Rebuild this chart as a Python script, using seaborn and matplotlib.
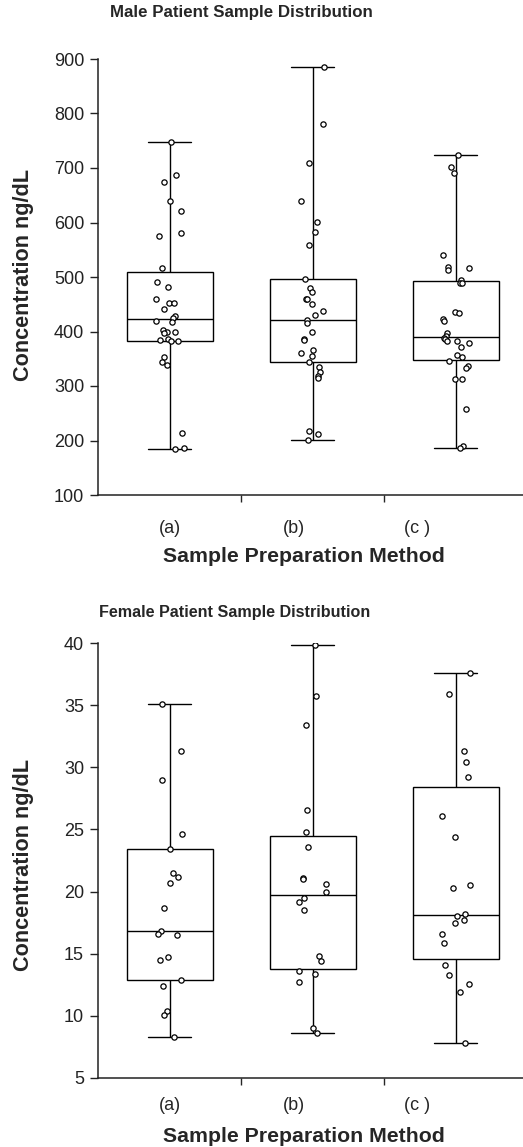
import numpy as np
import pandas as pd
import matplotlib
matplotlib.use("Agg")
import matplotlib.cbook
import matplotlib.pyplot as plt
import seaborn as sns

methods = ["(a)", "(b)", "(c )"]

male_a = [747, 688, 674, 640, 622, 581, 576, 516, 491, 482, 459, 453, 452, 441,
          429, 425, 420, 417, 402, 400, 397, 400, 387, 384, 383, 383, 354, 344,
          339, 214, 187, 185]
male_b = [885, 781, 710, 640, 601, 583, 559, 497, 480, 472, 460, 460, 450, 438,
          430, 422, 416, 400, 387, 384, 366, 360, 355, 344, 334, 326, 319, 314,
          217, 212, 201]
male_c = [724, 702, 691, 540, 518, 517, 513, 494, 489, 489, 436, 434, 423, 419,
          397, 392, 388, 386, 383, 383, 379, 372, 357, 353, 345, 337, 333, 313,
          313, 258, 190, 186]

female_a = [35.1, 31.3, 29.0, 24.6, 23.4, 21.5, 21.2, 20.7, 18.7, 16.8, 16.6,
            16.5, 14.7, 14.5, 12.9, 12.4, 10.4, 10.1, 8.3]
female_b = [39.8, 35.7, 33.4, 26.6, 24.8, 23.6, 21.1, 21.0, 20.6, 20.0, 19.5,
            19.2, 18.5, 14.8, 14.4, 13.6, 13.4, 12.7, 9.0, 8.6]
female_c = [37.6, 35.9, 31.3, 30.4, 29.2, 26.1, 24.4, 20.5, 20.3, 18.2, 18.0,
            17.7, 17.5, 16.6, 15.9, 14.1, 13.3, 12.6, 11.9, 7.8]

male_yticks = [100, 200, 300, 400, 500, 600, 700, 800, 900]
female_yticks = [5, 10, 15, 20, 25, 30, 35, 40]

# The original software computes box quartiles with the (n+1)p rule
_orig_stats = matplotlib.cbook.boxplot_stats


def _weibull_stats(X, *args, **kwargs):
    out = _orig_stats(X, *args, **kwargs)
    if isinstance(X, (list, tuple)):
        groups = list(X)
    else:
        groups = [X]
    if len(groups) != len(out):
        return out
    for d, g in zip(out, groups):
        arr = np.asarray(g, dtype=float).ravel()
        arr = arr[np.isfinite(arr)]
        if arr.size:
            q1, med, q3 = np.percentile(arr, [25, 50, 75], method="weibull")
            d["q1"], d["med"], d["q3"] = q1, med, q3
    return out


matplotlib.cbook.boxplot_stats = _weibull_stats

sns.set_style("white")
plt.rcParams['font.family'] = ['Liberation Sans', 'DejaVu Sans']

fig = plt.figure(figsize=(5.23, 11.47), dpi=100)
W, H = 523.0, 1147.0


def panel(ax, a, b, c, yticks, seed, label_pad):
    df = pd.DataFrame({
        "method": np.repeat(methods, [len(a), len(b), len(c)]),
        "value": np.concatenate([a, b, c]).astype(float),
    })
    sns.boxplot(data=df, x="method", y="value", order=methods, whis=(0, 100),
                width=0.6, color="white", linecolor="black", linewidth=1.0,
                fliersize=0, ax=ax)
    np.random.seed(seed)
    sns.stripplot(data=df, x="method", y="value", order=methods, jitter=0.1,
                  size=3.8, color="white", edgecolor="black", linewidth=0.9,
                  ax=ax, zorder=4)
    ax.set_xlim(-0.503, 2.47)
    ax.set_ylim(yticks[0], yticks[-1])
    ax.set_yticks(yticks)
    ax.tick_params(axis="y", labelsize=13, length=6, width=1, direction="out",
                   left=True, pad=4, colors="#222222")
    ax.set_xticks([0, 0.87, 1.73])
    ax.set_xticklabels(methods, fontsize=13)
    ax.tick_params(axis="x", which="major", length=0, pad=label_pad,
                   bottom=True)
    ax.set_xticks([0.5, 1.5], minor=True)
    ax.tick_params(axis="x", which="minor", length=5, width=1, bottom=True,
                   direction="out")
    for s in ["top", "right"]:
        ax.spines[s].set_visible(False)
    for s in ["left", "bottom"]:
        ax.spines[s].set_color("#222222")
        ax.spines[s].set_linewidth(1.1)
    ax.set_xlabel("")
    ax.set_ylabel("")


ax1 = fig.add_axes([98 / W, 1 - 495 / H, 1 - 98 / W, (495 - 59) / H])
ax2 = fig.add_axes([98 / W, 1 - 1078 / H, 1 - 98 / W, (1078 - 643) / H])

panel(ax1, male_a, male_b, male_c, male_yticks, 3, 18)
panel(ax2, female_a, female_b, female_c, female_yticks, 5, 14)

fig.text(110 / W, 1 - 13 / H, "Male Patient Sample Distribution",
         ha="left", va="center", fontsize=12.2, fontweight="bold")
fig.text(99 / W, 1 - 612 / H, "Female Patient Sample Distribution",
         ha="left", va="center", fontsize=11.6, fontweight="bold")

fig.text(304 / W, 1 - 557 / H, "Sample Preparation Method", ha="center",
         va="center", fontsize=15.3, fontweight="bold")
fig.text(304 / W, 1 - 1137 / H, "Sample Preparation Method", ha="center",
         va="center", fontsize=15.3, fontweight="bold")

fig.text(24 / W, 1 - 275 / H, "Concentration ng/dL", ha="center",
         va="center", rotation=90, fontsize=15.6, fontweight="bold")
fig.text(24 / W, 1 - 865 / H, "Concentration ng/dL", ha="center",
         va="center", rotation=90, fontsize=15.6, fontweight="bold")

fig.savefig("out.png", dpi=100)
